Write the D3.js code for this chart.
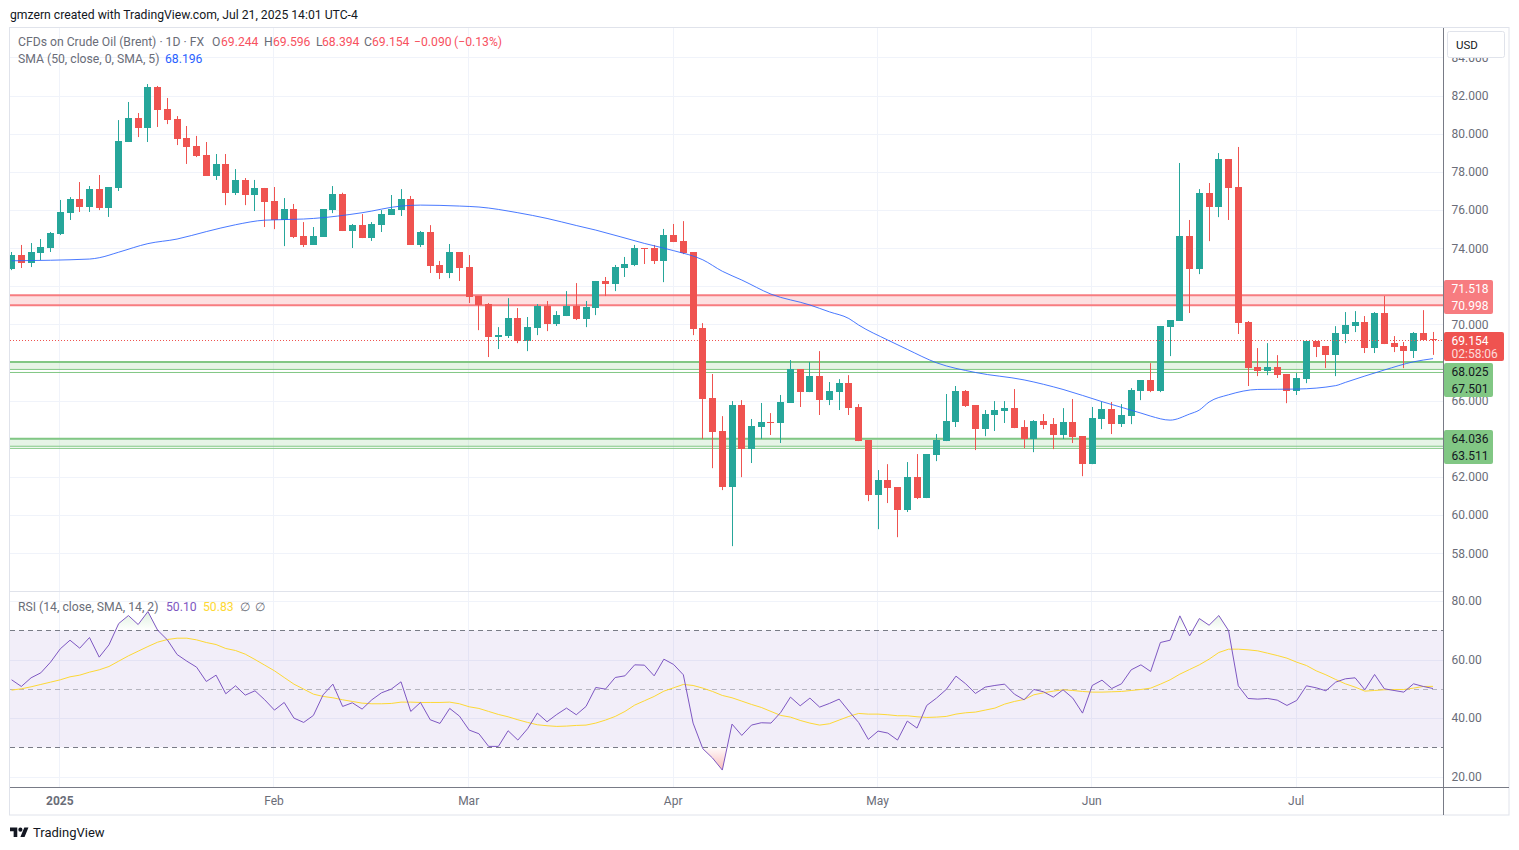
<!DOCTYPE html>
<html><head><meta charset="utf-8">
<script src="https://cdnjs.cloudflare.com/ajax/libs/d3/7.8.5/d3.min.js"></script>
<style>html,body{margin:0;padding:0;background:#fff;overflow:hidden}svg{display:block}text{font-family:Roboto,sans-serif}</style>
</head><body><div id="chart"></div>
<script>
const opens=[72.90,73.63,73.21,73.74,73.98,74.73,75.84,76.57,76.15,77.09,
76.10,77.15,79.56,80.82,80.30,82.45,81.29,80.77,79.77,79.35,
78.88,77.78,78.41,76.88,77.57,76.78,77.15,76.47,75.47,76.04,
74.63,74.16,74.58,75.99,76.83,74.89,75.20,74.52,75.20,75.73,
75.99,76.57,74.16,74.84,73.11,72.69,73.79,73.00,71.48,71.06,
69.33,69.38,70.33,69.12,69.80,70.95,70.01,70.43,70.95,70.27,
70.85,72.27,72.11,72.95,73.11,74.00,74.00,73.32,74.68,74.37,
73.79,69.80,66.13,64.40,61.46,65.76,63.45,64.60,64.87,64.82,
65.87,67.65,66.44,67.28,66.02,66.44,66.91,65.66,63.92,61.04,
61.82,61.46,60.25,61.98,60.88,63.14,63.87,64.87,66.50,65.76,
64.50,65.24,65.45,65.60,64.61,63.98,64.92,64.76,64.19,64.87,
64.13,62.66,65.03,65.55,64.76,65.18,66.49,67.07,66.49,69.85,
70.17,74.63,72.90,76.88,76.15,78.67,77.20,70.12,67.75,67.54,
67.75,67.39,66.50,67.12,69.12,68.86,68.38,69.49,69.90,70.11,
68.75,70.59,69.01,68.86,68.59,69.54,69.244];
const closes=[73.63,73.21,73.79,74.05,74.79,75.89,76.57,76.15,77.09,76.10,
77.20,79.61,80.82,80.30,82.45,81.24,80.71,79.72,79.30,78.83,
77.78,78.41,76.88,77.57,76.78,77.15,76.41,75.47,76.04,74.58,
74.16,74.63,76.04,76.83,74.89,75.20,74.52,75.26,75.78,76.04,
76.57,74.16,74.84,73.05,72.69,73.79,72.95,71.43,71.01,69.33,
69.43,70.33,69.12,69.85,70.95,70.01,70.48,70.95,70.27,70.90,
72.27,72.11,73.00,73.16,74.00,73.95,73.32,74.68,74.31,73.74,
69.75,66.07,64.34,61.46,65.76,63.45,64.66,64.87,64.82,65.92,
67.65,66.44,67.28,66.02,66.49,66.91,65.60,63.87,61.04,61.82,
61.41,60.25,61.98,60.88,63.19,63.92,64.92,66.50,65.71,64.50,
65.29,65.50,65.60,64.55,63.98,64.92,64.71,64.19,64.87,64.08,
62.66,65.08,65.55,64.76,65.24,66.55,67.07,66.49,69.91,70.22,
74.63,72.90,76.88,76.15,78.67,77.15,70.06,67.70,67.54,67.75,
67.33,66.49,67.18,69.12,68.80,68.38,69.54,69.96,70.11,68.75,
70.59,68.96,68.80,68.59,69.54,69.17,69.154];
const highs=[73.79,74.16,74.26,74.47,74.84,76.52,76.67,77.46,77.25,77.83,
77.20,80.71,81.66,81.08,82.60,82.50,81.87,80.92,80.40,79.88,
79.56,78.93,78.93,78.14,77.67,77.57,77.15,77.20,76.62,76.31,
75.36,75.10,76.04,77.25,76.90,75.26,75.78,75.36,75.99,76.78,
77.09,76.73,74.89,75.20,73.32,74.21,73.79,73.63,71.48,71.11,
69.85,71.37,70.85,70.38,71.06,71.22,70.69,71.74,72.16,71.22,
72.27,72.48,73.11,73.53,74.16,74.00,74.16,75.00,75.26,75.41,
73.79,70.06,67.39,65.18,65.97,66.02,65.03,65.87,65.34,66.29,
68.12,67.65,68.02,68.59,66.97,67.12,67.33,65.81,63.92,62.35,
62.66,61.46,62.77,63.19,63.19,64.24,66.34,66.76,66.55,65.76,
65.50,65.97,65.97,66.60,64.97,64.97,65.29,65.08,65.60,66.08,
64.13,65.66,65.92,65.92,65.81,66.65,67.07,67.96,69.91,70.22,
78.46,75.47,77.09,77.41,78.98,78.67,79.30,70.17,68.75,69.01,
68.38,67.39,67.44,69.12,69.12,68.86,69.90,70.64,70.69,70.43,
70.64,71.48,69.38,69.07,69.59,70.74,69.596];
const lows=[72.84,72.95,73.00,73.37,73.79,74.68,75.47,75.89,75.89,75.99,
75.63,76.99,79.56,79.82,79.56,80.35,80.50,79.40,78.41,78.77,
77.78,77.57,76.25,76.78,76.25,75.94,75.10,74.99,74.10,74.52,
74.05,74.16,74.58,75.83,74.89,74.00,74.52,74.37,74.84,75.73,
75.68,74.16,74.05,72.69,72.37,72.42,72.27,71.11,69.69,68.28,
68.70,69.28,69.01,68.59,69.43,69.64,69.91,70.43,70.22,69.85,
70.48,71.48,71.74,72.48,73.05,73.16,73.16,72.21,74.31,73.68,
69.43,63.98,62.45,61.30,58.36,61.98,62.72,63.98,64.19,63.77,
65.87,65.66,66.44,65.24,65.76,65.50,65.24,63.87,60.72,59.25,
60.62,58.83,60.15,60.83,60.88,62.82,63.87,64.61,65.66,63.40,
64.13,64.40,64.82,64.55,63.50,63.29,64.50,63.45,63.98,63.77,
62.03,62.66,64.50,64.24,64.61,64.76,66.02,66.44,66.44,68.33,
70.17,70.59,72.63,74.36,75.62,75.47,69.49,66.76,67.28,67.33,
67.18,65.86,66.29,66.91,68.28,67.70,67.28,69.01,69.59,68.49,
68.49,68.96,68.54,67.70,68.23,69.17,68.394];
const smaBars=[0,8,9,11,14,17,20,23,26,30,31,36,40,42,46,48,52,55,58,60,65,68,71,73,75,78,82,84,86,87,90,92,95,99,104,108,112,116,117,119,121,122,123,125,128,132,136,137,141,144,146];
const smaValues=[73.33,73.42,73.49,73.78,74.23,74.47,74.86,75.22,75.46,75.52,75.55,75.85,76.20,76.25,76.20,76.15,75.85,75.55,75.18,74.94,74.24,73.86,73.38,72.78,72.32,71.58,71.01,70.65,70.30,69.96,69.17,68.68,67.98,67.47,67.08,66.58,65.94,65.34,65.18,64.97,65.29,65.50,65.92,66.30,66.58,66.60,66.78,66.95,67.60,68.03,68.196];
const rsiValues=[53.07,50.80,53.75,55.45,59.09,63.64,66.59,63.86,67.50,60.80,65.00,72.27,75.00,71.93,76.36,70.00,66.70,61.70,59.43,57.39,52.50,54.66,48.30,51.02,47.84,49.32,46.25,42.73,45.34,40.00,38.52,40.91,47.95,51.59,43.98,45.23,43.07,46.25,48.64,49.89,52.39,42.27,45.34,39.43,38.18,43.30,40.68,35.91,34.66,30.34,30.34,
35.68,32.50,36.36,41.70,38.75,41.25,43.41,41.14,43.98,50.45,49.89,53.86,54.43,58.18,58.07,54.43,60.11,58.30,54.77,38.30,29.55,26.36,22.27,37.95,34.09,37.61,38.41,38.30,41.93,47.16,44.20,46.82,43.75,45.00,46.48,42.39,38.52,32.73,35.57,34.89,32.50,38.98,36.59,44.32,46.82,49.77,54.32,51.70,48.41,
50.57,51.14,51.59,48.18,46.25,49.77,48.98,47.16,49.66,46.82,41.70,51.14,52.95,50.11,51.70,56.48,58.18,55.91,65.80,66.59,74.89,68.07,73.98,71.70,75.00,69.89,51.02,46.70,46.48,46.70,46.14,44.32,46.02,51.02,50.34,49.32,52.27,53.41,53.75,49.66,54.89,50.00,49.43,48.86,51.70,50.80,50.10];
const rsiMaValues=[49.55,50.00,50.68,51.48,52.27,53.07,54.09,54.66,55.68,56.48,57.61,59.43,61.25,62.84,64.43,65.91,66.82,67.27,67.27,66.70,65.80,65.11,63.75,63.07,61.82,60.00,58.07,56.14,53.86,51.59,49.89,48.18,47.39,46.93,46.25,45.68,45.11,44.89,44.89,45.00,45.45,45.45,45.34,45.34,45.34,45.45,44.89,43.86,43.30,42.27,41.25,
40.45,39.43,38.52,37.73,37.39,37.16,37.27,37.50,37.61,38.30,39.32,40.57,42.27,44.43,45.91,47.39,49.20,50.34,51.48,51.14,50.23,49.09,47.73,46.93,45.80,44.66,43.64,42.27,40.91,40.34,39.20,38.30,37.61,38.07,39.32,40.57,41.59,41.36,41.36,41.14,40.80,40.80,40.45,40.23,40.34,40.57,41.36,41.82,42.05,42.73,
43.41,44.77,45.68,46.36,47.95,48.64,49.20,49.66,49.43,49.09,48.86,48.86,48.98,49.09,49.43,49.77,50.23,51.59,53.07,55.00,56.59,58.18,60.11,62.39,63.52,63.52,63.30,62.95,62.16,61.36,60.45,59.09,57.95,56.14,54.77,53.18,51.70,50.57,49.20,49.43,49.66,49.77,49.77,50.23,50.80,50.83];
const monthBars=[5,27,47,68,89,111,132];
const monthLabels=["2025","Feb","Mar","Apr","May","Jun","Jul"];
const priceTicks=[58,60,62,64,66,68,70,72,74,76,78,80,82,84];
const priceTickLabels=[58,60,62,66,70,74,76,78,80,82,84];
const rsiTicks=[20,40,60,80];
const rsiLevels=[70,50,30];
const redZone=[71.518,70.998];
const greenZones=[[68.025,67.63,67.47],[64.0,63.6,63.49]];
const priceLabels=[[71.518,70.998],[68.025,67.501],[64.036,63.511]];
const lastPrice=69.154;
const countdown="02:58:06";
const sourceLine="gmzern created with TradingView.com, Jul 21, 2025 14:01 UTC-4";

const W=1519,H=850,L=10,R=1443,BOX_R=1509;
const GRID="#f0f3fa",EDGE="#e0e3eb",AXIS="#787b86",TXT="#6a6d78",UP="#26a69a",DOWN="#ef5350";
const svg=d3.select("#chart").append("svg").attr("width",W).attr("height",H);
const x=d3.scaleLinear().domain([0,146]).range([11.6,1433]);
const y=d3.scaleLinear().domain([58,82]).range([553,95.5]);
const yR=d3.scaleLinear().domain([20,80]).range([776.7,600.9]);
const defs=svg.append("defs");
defs.append("clipPath").attr("id","cMain").append("rect").attr("x",L).attr("y",28).attr("width",R-L).attr("height",563);
defs.append("clipPath").attr("id","cAbove").append("rect").attr("x",L).attr("y",592).attr("width",R-L).attr("height",yR(70)-592);
defs.append("clipPath").attr("id","cBelow").append("rect").attr("x",L).attr("y",yR(30)).attr("width",R-L).attr("height",787-yR(30));
const g1=defs.append("linearGradient").attr("id","gOB").attr("gradientUnits","userSpaceOnUse").attr("x1",0).attr("x2",0).attr("y1",yR(77)).attr("y2",yR(70));
g1.append("stop").attr("offset","0").attr("stop-color","#4caf50").attr("stop-opacity",.2);
g1.append("stop").attr("offset","1").attr("stop-color","#4caf50").attr("stop-opacity",0);
const g2=defs.append("linearGradient").attr("id","gOS").attr("gradientUnits","userSpaceOnUse").attr("x1",0).attr("x2",0).attr("y1",yR(30)).attr("y2",yR(22));
g2.append("stop").attr("offset","0").attr("stop-color","#ef5350").attr("stop-opacity",.02);
g2.append("stop").attr("offset","1").attr("stop-color","#ef5350").attr("stop-opacity",.4);

// source line + frame
svg.append("text").attr("x",10).attr("y",19).attr("font-size",12.2).attr("fill","#131722").text(sourceLine);
svg.append("rect").attr("x",9.5).attr("y",27.5).attr("width",BOX_R-9.5).attr("height",787.5).attr("fill","none").attr("stroke",EDGE);

// grid
const grid=svg.append("g").attr("stroke",GRID).attr("stroke-width",1);
priceTicks.forEach(t=>{const v=Math.round(y(t))+.5;grid.append("line").attr("x1",L).attr("x2",R).attr("y1",v).attr("y2",v)});
rsiTicks.forEach(t=>{const v=Math.round(yR(t))+.5;grid.append("line").attr("x1",L).attr("x2",R).attr("y1",v).attr("y2",v)});
monthBars.forEach(b=>{const v=Math.round(x(b))-.5;grid.append("line").attr("x1",v).attr("x2",v).attr("y1",28).attr("y2",787)});

// zones
const main=svg.append("g").attr("clip-path","url(#cMain)");
main.append("rect").attr("x",L).attr("width",R-L).attr("y",y(redZone[0])).attr("height",y(redZone[1])-y(redZone[0])).attr("fill","#f77c80").attr("fill-opacity",.24);
redZone.forEach(v=>main.append("line").attr("x1",L).attr("x2",R).attr("y1",y(v)).attr("y2",y(v)).attr("stroke","#f77c80").attr("stroke-width",2));
greenZones.forEach(z=>{
  main.append("rect").attr("x",L).attr("width",R-L).attr("y",y(z[0])).attr("height",y(z[1])-y(z[0])).attr("fill","#81c784").attr("fill-opacity",.2);
  main.append("line").attr("x1",L).attr("x2",R).attr("y1",y(z[0])).attr("y2",y(z[0])).attr("stroke","#81c784").attr("stroke-width",2);
  main.append("line").attr("x1",L).attr("x2",R).attr("y1",y(z[1])).attr("y2",y(z[1])).attr("stroke","#81c784").attr("stroke-width",1);
  main.append("line").attr("x1",L).attr("x2",R).attr("y1",y(z[2])).attr("y2",y(z[2])).attr("stroke","#81c784").attr("stroke-width",1);
});

// candles
opens.forEach((o,i)=>{
  const c=closes[i],col=c>=o?UP:DOWN,cx=x(i);
  main.append("rect").attr("x",Math.round(cx-.5)).attr("width",1).attr("y",y(highs[i])).attr("height",y(lows[i])-y(highs[i])).attr("fill",col);
  const top=Math.round(y(Math.max(o,c))),bot=Math.round(y(Math.min(o,c)));
  main.append("rect").attr("x",Math.round(cx-3.5)).attr("width",7).attr("y",top).attr("height",Math.max(1,bot-top)).attr("fill",col);
});
// last price dotted
main.append("line").attr("x1",L).attr("x2",R).attr("y1",Math.round(y(lastPrice))+.5).attr("y2",Math.round(y(lastPrice))+.5).attr("stroke",DOWN).attr("stroke-dasharray","1,2");
// SMA
main.append("path").attr("d",d3.line().x(d=>x(d[0])).y(d=>y(d[1])).curve(d3.curveMonotoneX)(smaBars.map((b,i)=>[b,smaValues[i]]))).attr("fill","none").attr("stroke","#2962ff").attr("stroke-opacity",.85).attr("stroke-width",1);

// RSI pane
svg.append("rect").attr("x",L).attr("width",R-L).attr("y",yR(70)).attr("height",yR(30)-yR(70)).attr("fill","#7e57c2").attr("fill-opacity",.1);
rsiLevels.forEach(l=>svg.append("line").attr("x1",L).attr("x2",R).attr("y1",Math.round(yR(l))+.5).attr("y2",Math.round(yR(l))+.5).attr("stroke",AXIS).attr("stroke-opacity",l===50?.5:1).attr("stroke-dasharray","5,4"));
const rsiPts=rsiValues.map((v,i)=>[i,v]);
svg.append("path").attr("clip-path","url(#cAbove)").attr("d",d3.area().x(d=>x(d[0])).y0(yR(70)).y1(d=>yR(d[1]))(rsiPts)).attr("fill","url(#gOB)");
svg.append("path").attr("clip-path","url(#cBelow)").attr("d",d3.area().x(d=>x(d[0])).y0(d=>yR(d[1])).y1(yR(30))(rsiPts)).attr("fill","url(#gOS)");
defs.append("clipPath").attr("id","cRsi").append("rect").attr("x",L).attr("y",592).attr("width",R-L).attr("height",195);
svg.append("path").attr("clip-path","url(#cRsi)").attr("d",d3.line().x((d,i)=>x(i)).y(d=>yR(d))(rsiMaValues)).attr("fill","none").attr("stroke","#fdd835").attr("stroke-width",1);
svg.append("path").attr("clip-path","url(#cRsi)").attr("d",d3.line().x((d,i)=>x(i)).y(d=>yR(d))(rsiValues)).attr("fill","none").attr("stroke","#7e57c2").attr("stroke-width",1);

// pane borders
svg.append("line").attr("x1",L).attr("x2",R).attr("y1",591.5).attr("y2",591.5).attr("stroke",EDGE);
svg.append("line").attr("x1",R+.5).attr("x2",R+.5).attr("y1",28).attr("y2",815).attr("stroke",AXIS);
svg.append("line").attr("x1",L).attr("x2",BOX_R).attr("y1",787.5).attr("y2",787.5).attr("stroke",AXIS);

// axes
const styleAxis=g=>{g.select(".domain").remove();g.selectAll("line").remove();g.selectAll("text").attr("font-size",12).attr("fill",TXT).attr("font-family","Roboto,sans-serif")};
svg.append("g").attr("transform",`translate(${R+8.5},0.2)`).call(d3.axisRight(y).tickValues(priceTickLabels).tickFormat(d3.format(".3f")).tickSize(0).tickPadding(0)).call(styleAxis);
svg.append("g").attr("transform",`translate(${R+8.5},0)`).call(d3.axisRight(yR).tickValues(rsiTicks).tickFormat(d3.format(".2f")).tickSize(0).tickPadding(0)).call(styleAxis);
svg.append("g").attr("transform","translate(0,796)").call(d3.axisBottom(x).tickValues(monthBars).tickFormat((d,i)=>monthLabels[i]).tickSize(0).tickPadding(0)).call(styleAxis)
  .selectAll("text").attr("dy",".71em").attr("font-weight",(d,i)=>i===0?"700":"400").attr("dx",-1);

// price labels
function lbl(pair,fill,tc,top,h){
  svg.append("rect").attr("x",R+1).attr("width",49).attr("y",top).attr("height",h).attr("rx",2).attr("fill",fill);
  pair.forEach((v,k)=>svg.append("text").attr("x",R+8.5).attr("y",top+h/4+h/2*k).attr("dy",".36em").attr("font-size",12).attr("fill",tc).text(d3.format(".3f")(v)));
}
lbl(priceLabels[0],"#f77c80","#fff",280,34);
lbl(priceLabels[1],"#81c784","#131722",363,34);
lbl(priceLabels[2],"#81c784","#131722",430,34);
svg.append("rect").attr("x",R+1).attr("width",60).attr("y",332).attr("height",29).attr("rx",2).attr("fill",DOWN);
svg.append("text").attr("x",R+8.5).attr("y",345).attr("font-size",12).attr("fill","#fff").text(d3.format(".3f")(lastPrice));
svg.append("text").attr("x",R+8.5).attr("y",358).attr("font-size",12).attr("fill","#fff").attr("fill-opacity",.8).text(countdown);

// USD box
svg.append("rect").attr("x",1447.5).attr("y",31.5).attr("width",57).attr("height",26).attr("rx",2).attr("fill","#fff").attr("stroke",EDGE);
svg.append("text").attr("x",1456).attr("y",49).attr("font-size",11.5).attr("fill","#131722").text("USD");

// legends
function seg(yy,parts){parts.forEach(p=>svg.append("text").attr("x",p[0]).attr("y",yy).attr("font-size",12.2).attr("fill",p[2]).text(p[1]));}
const G="#6a6d78",Rd="#f7525f";
seg(46,[[18,"CFDs on Crude Oil (Brent) · 1D · FX",G],[212,"O",G],[221,"69.244",Rd],[264,"H",G],[273,"69.596",Rd],[316,"L",G],[322,"68.394",Rd],[364,"C",G],[372,"69.154",Rd],[414,"−0.090",Rd],[454,"(−0.13%)",Rd]]);
seg(63,[[18,"SMA (50, close, 0, SMA, 5)",G],[165,"68.196","#2962ff"]]);
seg(611,[[18,"RSI (14, close, SMA, 14, 2)",G],[166,"50.10","#7e57c2"],[203,"50.83","#fdd835"],[240,"∅",G],[255,"∅",G]]);

// logo
const logo=svg.append("g").attr("transform","translate(10,825.5) scale(0.52)").attr("fill","#131722");
logo.append("path").attr("d","M14 22H7V11H0V4h14v18zM28 22h-8l7.5-18h8L28 22z");
logo.append("circle").attr("cx",20).attr("cy",8).attr("r",4);
svg.append("text").attr("x",33).attr("y",837).attr("font-size",13).attr("fill","#131722").text("TradingView");
</script></body></html>
